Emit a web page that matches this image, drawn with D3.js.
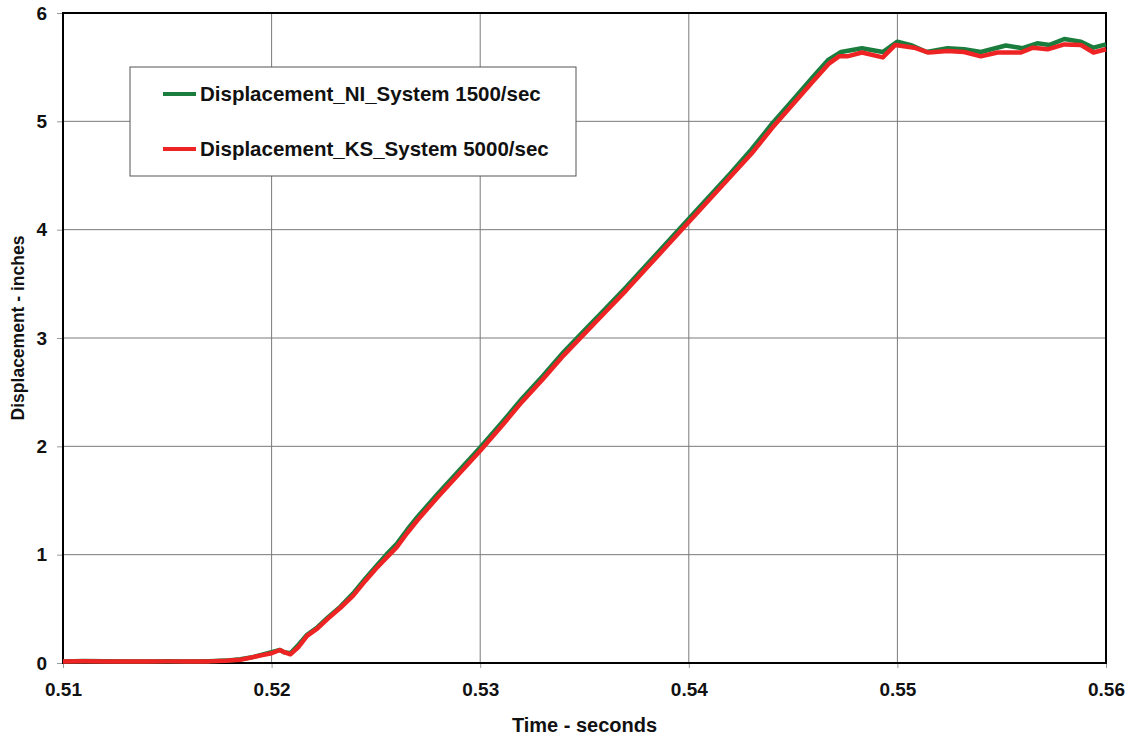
<!DOCTYPE html>
<html>
<head>
<meta charset="utf-8">
<script src="https://cdn.jsdelivr.net/npm/d3@7"></script>
<style>
  body { margin: 0; background: #fff; }
  text { font-family: "Liberation Sans", Arial, sans-serif; font-weight: bold; }
</style>
</head>
<body>
<div id="chart"></div>
<script>
// series data
var timeNI = [0.510, 0.511, 0.512, 0.513, 0.514, 0.515, 0.516, 0.517, 0.5178, 0.5185, 0.519, 0.5195, 0.5200, 0.5204, 0.5206, 0.5209,
  0.5213, 0.5217, 0.5222, 0.5227, 0.5233, 0.5239, 0.5245, 0.5250, 0.5255, 0.5260, 0.5265, 0.5270, 0.528, 0.529, 0.530,
  0.531, 0.532, 0.533, 0.534, 0.535, 0.536, 0.537, 0.538, 0.539, 0.540, 0.541, 0.542, 0.543, 0.544, 0.545, 0.546, 0.5467,
  0.5473, 0.5483, 0.5493, 0.5500, 0.5507, 0.5514, 0.5524, 0.5532, 0.5540, 0.5552, 0.5560, 0.5567, 0.5573, 0.5580, 0.5588, 0.5594, 0.5600];
var dispNI = [0.015, 0.018, 0.016, 0.015, 0.014, 0.016, 0.015, 0.017, 0.022, 0.035, 0.05, 0.075, 0.10, 0.12, 0.10, 0.09,
  0.17, 0.26, 0.33, 0.42, 0.52, 0.64, 0.78, 0.89, 1.0, 1.10, 1.23, 1.35, 1.57, 1.78, 1.99,
  2.21, 2.44, 2.65, 2.87, 3.07, 3.27, 3.47, 3.68, 3.89, 4.10, 4.31, 4.52, 4.74, 4.98, 5.20, 5.42, 5.57,
  5.64, 5.675, 5.64, 5.735, 5.70, 5.64, 5.675, 5.665, 5.64, 5.70, 5.675, 5.72, 5.705, 5.76, 5.735, 5.68, 5.71];

var timeKS = [0.510, 0.511, 0.512, 0.513, 0.514, 0.515, 0.516, 0.517, 0.5178, 0.5185, 0.519, 0.5195, 0.5200, 0.5204, 0.5206, 0.5209,
  0.5213, 0.5217, 0.5222, 0.5227, 0.5233, 0.5239, 0.5245, 0.5250, 0.5255, 0.5260, 0.5265, 0.5270, 0.528, 0.529, 0.530,
  0.531, 0.532, 0.533, 0.534, 0.535, 0.536, 0.537, 0.538, 0.539, 0.540, 0.541, 0.542, 0.543, 0.544, 0.545, 0.546, 0.5467,
  0.5472, 0.5476, 0.5483, 0.5493, 0.5499, 0.5508, 0.5515, 0.5524, 0.5532, 0.5540, 0.5548, 0.5559, 0.5565, 0.5572, 0.5580, 0.5588, 0.5594, 0.5600];
var dispKS = [0.014, 0.016, 0.015, 0.014, 0.013, 0.015, 0.014, 0.015, 0.02, 0.03, 0.05, 0.07, 0.09, 0.12, 0.10, 0.08,
  0.15, 0.25, 0.32, 0.41, 0.51, 0.62, 0.76, 0.87, 0.97, 1.07, 1.20, 1.32, 1.54, 1.75, 1.96,
  2.18, 2.41, 2.62, 2.84, 3.04, 3.24, 3.44, 3.65, 3.86, 4.07, 4.28, 4.49, 4.70, 4.94, 5.16, 5.38, 5.53,
  5.60, 5.60, 5.635, 5.59, 5.705, 5.68, 5.635, 5.65, 5.64, 5.60, 5.635, 5.635, 5.68, 5.665, 5.71, 5.705, 5.635, 5.665];

var xTicks = [0.51, 0.52, 0.53, 0.54, 0.55, 0.56];
var yTicks = [0, 1, 2, 3, 4, 5, 6];
var seriesNames = ["Displacement_NI_System 1500/sec", "Displacement_KS_System 5000/sec"];
var seriesColors = ["#1b7d3d", "#ee2424"];

var W = 1129, H = 738;
var margin = {top: 13, right: 23, bottom: 75, left: 63},
    width = W - margin.left - margin.right,
    height = H - margin.top - margin.bottom;

var svg = d3.select("#chart").append("svg")
    .attr("width", W).attr("height", H)
  .append("g")
    .attr("transform", "translate(" + margin.left + "," + margin.top + ")");

var x = d3.scaleLinear().domain([0.51, 0.56]).range([0, width]);
var y = d3.scaleLinear().domain([0, 6]).range([height, 0]);

// grid
svg.append("g").selectAll("line").data(yTicks.slice(1, -1)).enter().append("line")
    .attr("x1", 0).attr("x2", width)
    .attr("y1", d => y(d)).attr("y2", d => y(d))
    .style("stroke", "#7a7a7a").style("stroke-width", 1);
svg.append("g").selectAll("line").data(xTicks.slice(1, -1)).enter().append("line")
    .attr("y1", 0).attr("y2", height)
    .attr("x1", d => x(d)).attr("x2", d => x(d))
    .style("stroke", "#7a7a7a").style("stroke-width", 1);

// axes
var xAxis = svg.append("g")
    .attr("transform", "translate(0," + height + ")")
    .call(d3.axisBottom(x).tickValues(xTicks).tickFormat(d3.format(".2f")).tickSize(5).tickPadding(15));
var yAxis = svg.append("g")
    .call(d3.axisLeft(y).tickValues(yTicks).tickFormat(d3.format("d")).tickSize(6).tickPadding(10));
[xAxis, yAxis].forEach(function(a) {
  a.select(".domain").remove();
  a.selectAll(".tick line").style("stroke", "#999");
  a.selectAll(".tick text").style("font-size", "19px").style("fill", "#111");
});

// frame
svg.append("rect")
    .attr("x", 0).attr("y", 0).attr("width", width).attr("height", height)
    .style("fill", "none").style("stroke", "#000").style("stroke-width", 2);

// lines
var line = d3.line().x(d => x(d[0])).y(d => y(d[1])).curve(d3.curveLinear);
var seriesData = [d3.zip(timeNI, dispNI), d3.zip(timeKS, dispKS)];
seriesData.forEach(function(s, i) {
  svg.append("path")
      .datum(s)
      .attr("d", line)
      .style("fill", "none")
      .style("stroke", seriesColors[i])
      .style("stroke-width", "4.5px")
      .style("stroke-linejoin", "round");
});

// legend
var lg = svg.append("g").attr("transform", "translate(" + (130 - margin.left) + "," + (67 - margin.top) + ")");
lg.append("rect").attr("width", 446).attr("height", 109)
    .style("fill", "#fff").style("stroke", "#555").style("stroke-width", 1);
seriesNames.forEach(function(n, i) {
  var yy = 27 + i * 55;
  lg.append("line").attr("x1", 33).attr("x2", 66).attr("y1", yy).attr("y2", yy)
      .style("stroke", seriesColors[i]).style("stroke-width", 4);
  lg.append("text").attr("x", 70).attr("y", yy + 7)
      .style("font-size", "20.5px").style("fill", "#111").text(n);
});

// axis titles
svg.append("text")
    .attr("x", x(0.535)).attr("y", height + 69)
    .attr("text-anchor", "middle")
    .style("font-size", "20px").style("fill", "#111")
    .text("Time - seconds");
svg.append("text")
    .attr("transform", "translate(" + (24 - margin.left) + "," + (328 - margin.top) + ") rotate(-90)")
    .attr("text-anchor", "middle")
    .style("font-size", "17.5px").style("fill", "#111")
    .text("Displacement - inches");
</script>
</body>
</html>
